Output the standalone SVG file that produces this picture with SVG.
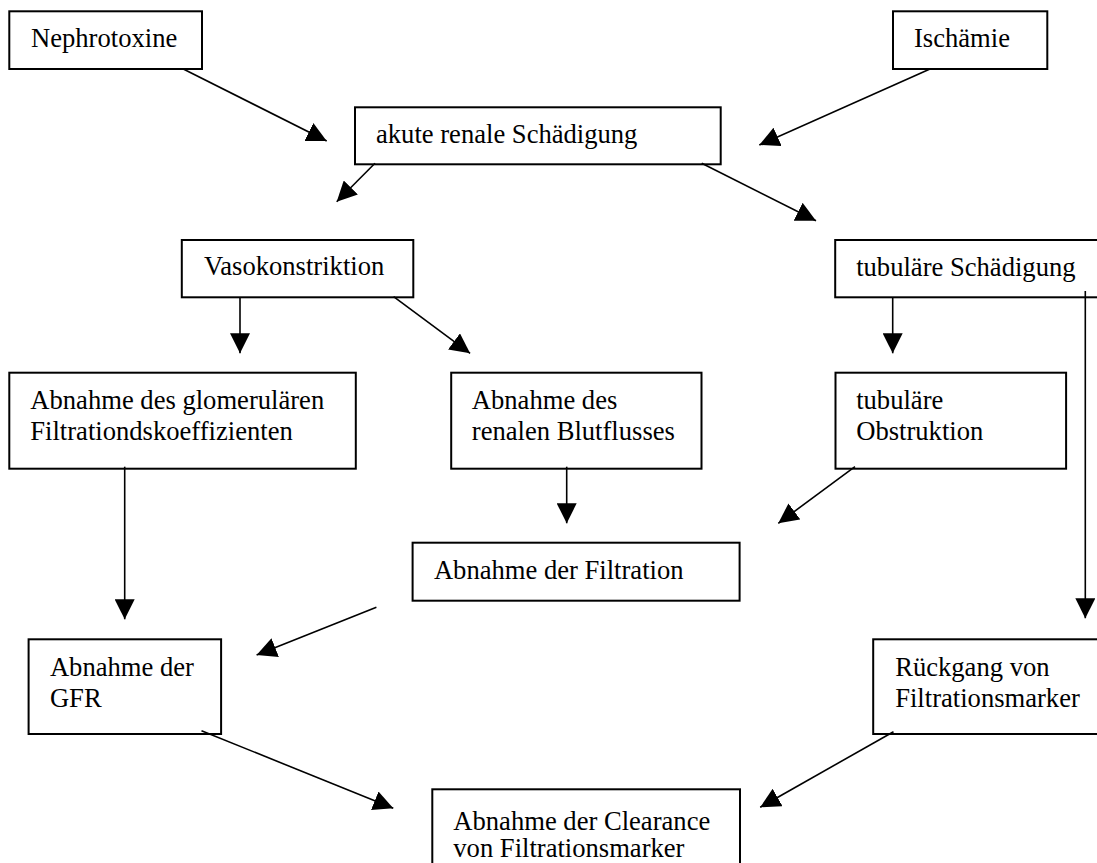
<svg xmlns="http://www.w3.org/2000/svg" width="1097" height="863" viewBox="0 0 1097 863">
<style>
.box{fill:#fff;stroke:#000;stroke-width:2}
.t{font-family:"Liberation Serif","Times New Roman",serif;font-size:26.6px;fill:#000}
.c line{stroke:#000;stroke-width:1.6;marker-end:url(#ah)}
</style>
<defs>
<marker id="ah" markerUnits="userSpaceOnUse" markerWidth="20" markerHeight="20" refX="20" refY="10" orient="auto">
<path d="M0,0 L20,10 L0,20 Z" fill="#000"/>
</marker>
</defs>
<rect width="1097" height="863" fill="#fff"/>
<g id="n-nephrotoxine"><rect class="box" x="9.3" y="11.3" width="192.7" height="57.7"/><text class="t" x="31" y="46.7">Nephrotoxine</text></g>
<g id="n-ischaemie"><rect class="box" x="893" y="11.3" width="154.3" height="57.7"/><text class="t" x="914" y="46.7">Ischämie</text></g>
<g id="n-akute"><rect class="box" x="355" y="107.3" width="365.7" height="57"/><text class="t" x="376" y="143.3">akute renale Schädigung</text></g>
<g id="n-vaso"><rect class="box" x="181.8" y="240" width="231.5" height="57.3"/><text class="t" x="204" y="275">Vasokonstriktion</text></g>
<g id="n-tubschaed"><rect class="box" x="835.2" y="240" width="300" height="57.3"/><text class="t" x="856.2" y="276">tubuläre Schädigung</text></g>
<g id="n-glom"><rect class="box" x="9.3" y="372.7" width="346.5" height="96"/><text class="t" x="30.3" y="409.3">Abnahme des glomerulären</text><text class="t" x="30.3" y="440">Filtrationdskoeffizienten</text></g>
<g id="n-renal"><rect class="box" x="451.2" y="372.7" width="250.3" height="96"/><text class="t" x="471.8" y="409.3">Abnahme des</text><text class="t" x="471.8" y="440">renalen Blutflusses</text></g>
<g id="n-obstr"><rect class="box" x="835.5" y="372.7" width="230.6" height="96"/><text class="t" x="856.2" y="409.3">tubuläre</text><text class="t" x="856.2" y="440">Obstruktion</text></g>
<g id="n-filtration"><rect class="box" x="412.6" y="542.7" width="327" height="58"/><text class="t" x="433.9" y="579.3">Abnahme der Filtration</text></g>
<g id="n-gfr"><rect class="box" x="28.6" y="639.3" width="192.5" height="94.7"/><text class="t" x="49.9" y="676">Abnahme der</text><text class="t" x="49.9" y="706.7">GFR</text></g>
<g id="n-rueckgang"><rect class="box" x="873.2" y="639.3" width="260" height="94.7"/><text class="t" x="895.2" y="676">Rückgang von</text><text class="t" x="895.2" y="706.7">Filtrationsmarker</text></g>
<g id="n-clearance"><rect class="box" x="432.3" y="789.3" width="307.7" height="100"/><text class="t" x="453.3" y="830">Abnahme der Clearance</text><text class="t" x="453.3" y="857">von Filtrationsmarker</text></g>
<g id="connectors" class="c">
<line x1="183.3" y1="69" x2="326.7" y2="141"/>
<line x1="930" y1="69" x2="759.3" y2="145"/>
<line x1="375" y1="163.3" x2="336.7" y2="201.7"/>
<line x1="701.7" y1="163.3" x2="816" y2="220.7"/>
<line x1="240" y1="297" x2="240" y2="353.3"/>
<line x1="393.6" y1="296.7" x2="470.1" y2="353.3"/>
<line x1="892.7" y1="297" x2="892.7" y2="353.3"/>
<line x1="1085.3" y1="291" x2="1085.3" y2="618.3"/>
<line x1="124.7" y1="466.7" x2="124.7" y2="619.3"/>
<line x1="566.7" y1="466.7" x2="566.7" y2="523.3"/>
<line x1="855" y1="466.7" x2="778.3" y2="523.3"/>
<line x1="376.4" y1="607.3" x2="256.6" y2="655"/>
<line x1="201.5" y1="730.7" x2="393.3" y2="808.3"/>
<line x1="893.5" y1="731.7" x2="760.2" y2="807.3"/>
</g>
</svg>
